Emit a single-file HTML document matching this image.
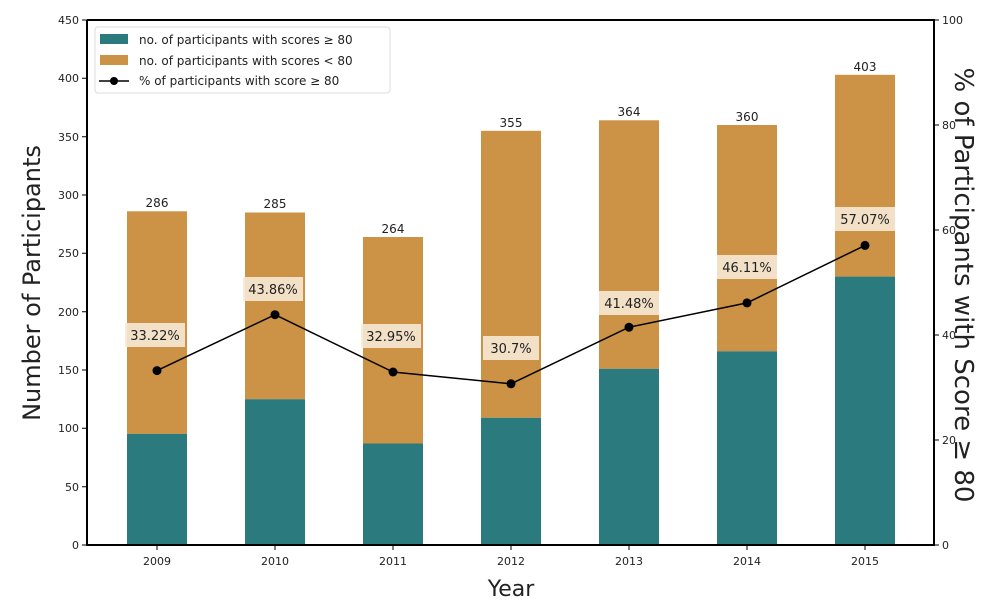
<!DOCTYPE html>
<html><head><meta charset="utf-8"><style>body{margin:0;background:#fff}svg{display:block}text{font-family:"DejaVu Sans","Liberation Sans",sans-serif;fill:#222}</style></head>
<body>
<svg width="995" height="601" viewBox="0 0 995 601" xmlns="http://www.w3.org/2000/svg">
<g>
<rect x="127" y="211.3" width="60" height="222.6" fill="#cc9245"/><rect x="127" y="433.9" width="60" height="111.1" fill="#2b7a7d"/>
<rect x="245" y="212.5" width="60" height="186.7" fill="#cc9245"/><rect x="245" y="399.2" width="60" height="145.8" fill="#2b7a7d"/>
<rect x="363" y="237" width="60" height="206.5" fill="#cc9245"/><rect x="363" y="443.5" width="60" height="101.5" fill="#2b7a7d"/>
<rect x="481" y="130.8" width="60" height="287" fill="#cc9245"/><rect x="481" y="417.8" width="60" height="127.2" fill="#2b7a7d"/>
<rect x="599" y="120.3" width="60" height="248.5" fill="#cc9245"/><rect x="599" y="368.8" width="60" height="176.2" fill="#2b7a7d"/>
<rect x="717" y="125" width="60" height="226.3" fill="#cc9245"/><rect x="717" y="351.3" width="60" height="193.7" fill="#2b7a7d"/>
<rect x="835" y="74.8" width="60" height="201.8" fill="#cc9245"/><rect x="835" y="276.6" width="60" height="268.4" fill="#2b7a7d"/>
</g>
<g font-size="12" text-anchor="middle">
<text x="157" y="207">286</text><text x="275" y="208">285</text><text x="393" y="233">264</text><text x="511" y="127">355</text><text x="629" y="116">364</text><text x="747" y="121">360</text><text x="865" y="71">403</text>
</g>
<polyline points="157,370.6 275,314.7 393,372 511,383.8 629,327.2 747,302.9 865,245.4" fill="none" stroke="#000" stroke-width="1.5"/>
<g fill="#000"><circle cx="157" cy="370.6" r="4.5"/><circle cx="275" cy="314.7" r="4.5"/><circle cx="393" cy="372" r="4.5"/><circle cx="511" cy="383.8" r="4.5"/><circle cx="629" cy="327.2" r="4.5"/><circle cx="747" cy="302.9" r="4.5"/><circle cx="865" cy="245.4" r="4.5"/></g>
<g fill="#f7e9d6" opacity="0.9">
<rect x="125" y="323" width="60" height="24"/><rect x="243" y="277" width="60" height="24"/><rect x="361" y="324" width="60" height="24"/><rect x="483" y="336" width="56" height="24"/><rect x="599" y="291" width="60" height="24"/><rect x="717" y="255" width="60" height="24"/><rect x="835" y="207" width="60" height="24"/>
</g>
<g font-size="13" text-anchor="middle">
<text x="155" y="340">33.22%</text><text x="273" y="294">43.86%</text><text x="391" y="341">32.95%</text><text x="511" y="353">30.7%</text><text x="629" y="308">41.48%</text><text x="747" y="272">46.11%</text><text x="865" y="224">57.07%</text>
</g>
<g stroke="#000" stroke-width="2" fill="none"><path d="M87,20 V545 H934 V20 H87"/></g>
<g stroke="#000" stroke-width="1">
<path d="M82,545h5M82,486.7h5M82,428.3h5M82,370h5M82,311.7h5M82,253.3h5M82,195h5M82,136.7h5M82,78.3h5M82,20h5"/>
<path d="M934,545h5M934,440h5M934,335h5M934,230h5M934,125h5M934,20h5"/>
<path d="M157,545v5M275,545v5M393,545v5M511,545v5M629,545v5M747,545v5M865,545v5"/>
</g>
<g font-size="11" text-anchor="end">
<text x="79" y="549">0</text><text x="79" y="491">50</text><text x="79" y="432">100</text><text x="79" y="374">150</text><text x="79" y="316">200</text><text x="79" y="257">250</text><text x="79" y="199">300</text><text x="79" y="141">350</text><text x="79" y="82">400</text><text x="79" y="24">450</text>
</g>
<g font-size="11">
<text x="942" y="549">0</text><text x="942" y="444">20</text><text x="942" y="339">40</text><text x="942" y="234">60</text><text x="942" y="129">80</text><text x="942" y="24">100</text>
</g>
<g font-size="11" text-anchor="middle">
<text x="157" y="565">2009</text><text x="275" y="565">2010</text><text x="393" y="565">2011</text><text x="511" y="565">2012</text><text x="629" y="565">2013</text><text x="747" y="565">2014</text><text x="865" y="565">2015</text>
</g>
<text x="511" y="596" font-size="22" text-anchor="middle">Year</text>
<text transform="translate(40,283) rotate(-90)" font-size="24" text-anchor="middle">Number of Participants</text>
<text transform="translate(955,285) rotate(90)" font-size="26" text-anchor="middle">% of Participants with Score ≥ 80</text>
<rect x="95" y="27" width="295" height="66" fill="#fff" fill-opacity="0.9" stroke="#ddd" rx="3"/>
<rect x="100" y="34" width="28" height="10" fill="#2b7a7d"/>
<rect x="100" y="55" width="28" height="10" fill="#cc9245"/>
<line x1="99" y1="81" x2="129" y2="81" stroke="#000" stroke-width="1.5"/><circle cx="114" cy="81" r="4" fill="#000"/>
<g font-size="12"><text x="139" y="44">no. of participants with scores ≥ 80</text><text x="139" y="65">no. of participants with scores &lt; 80</text><text x="139" y="85">% of participants with score ≥ 80</text></g>
</svg>
</body></html>
